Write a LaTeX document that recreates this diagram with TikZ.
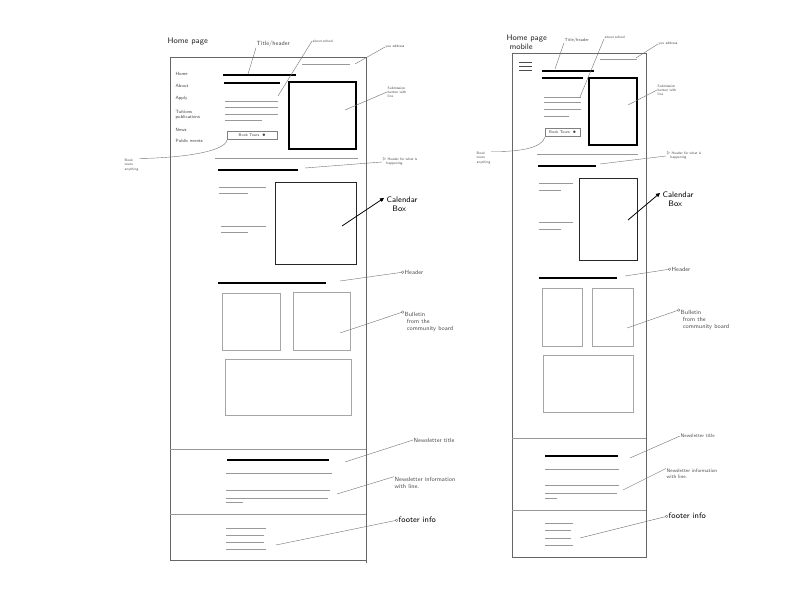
\documentclass[tikz,border=0pt]{standalone}
\usetikzlibrary{arrows.meta}
\begin{document}
\begin{tikzpicture}[x=1pt,y=-1pt,
  frame/.style={draw=black!60, line width=0.8pt},
  sep/.style={draw=black!40, line width=0.6pt},
  heavy/.style={draw=black, line width=2pt},
  heavyb/.style={draw=black, line width=1.6pt},
  thinl/.style={draw=black!40, line width=0.7pt},
  lbox/.style={draw=black!35, line width=0.7pt},
  bbox/.style={draw=black, line width=1.6pt},
  cbox/.style={draw=black!85, line width=1pt},
  lead/.style={draw=black!55, line width=0.4pt},
  leadc/.style={draw=black!55, line width=0.4pt, {Circle[open,length=3pt,line width=0.4pt]}-},
  leadk/.style={draw=black, line width=0.8pt, {Triangle[length=4pt,width=4pt]}-},
  tiny/.style={font=\sffamily\fontsize{3.6}{4.2}\selectfont, text=black!70, align=left, inner sep=0.5pt, anchor=west},
  nav/.style={font=\sffamily\fontsize{4.6}{5.2}\selectfont, text=black!75, align=left, inner sep=0.5pt, anchor=west},
  mid/.style={font=\sffamily\fontsize{6}{7}\selectfont, text=black!70, align=left, inner sep=0.5pt, anchor=west},
  big/.style={font=\sffamily\fontsize{8}{9}\selectfont, text=black, align=left, inner sep=0.5pt, anchor=west},
  ttl/.style={font=\sffamily\fontsize{8}{9}\selectfont, text=black!85, align=left, inner sep=0.5pt, anchor=west},
  btn/.style={draw=black!50, line width=0.5pt, minimum width=50pt, minimum height=8.5pt, inner sep=0pt, font=\sffamily\fontsize{4}{4.5}\selectfont, text=black!75, anchor=north west}
]
\useasboundingbox (0,0) rectangle (792,612);
\fill[white] (0,0) rectangle (792,612);

%================ DESKTOP =================
\node[ttl] (dtitle) at (167,42) {Home page};
\draw[frame] (170,57) -- (366,57) -- (366,563);
\draw[frame] (170,57) -- (170,560) -- (366,560);
\draw[sep] (170,449) -- (366,449);
\draw[sep] (170,514) -- (366,514);

% nav
\node[nav] (n1) at (175,74) {Home};
\node[nav] (n2) at (175,86) {About};
\node[nav] (n3) at (175,98) {Apply};
\node[nav,align=left] (n4) at (175,115) {Tuitions\\publications};
\node[nav] (n5) at (175,130) {News};
\node[nav] (n6) at (175,141) {Public events};

% top section
\draw[thinl] (302,64) -- (350,64);
\draw[heavy] (223,75) -- (296,75);
\draw[heavy] (224,83) -- (280,83);
\draw[thinl] (225,101) -- (278,101);
\draw[thinl] (225,107) -- (278,107);
\draw[thinl] (225,114) -- (278,114);
\draw[thinl] (225,120) -- (262,120);
\draw[bbox] (289,82) rectangle (356,149);
\node[btn] (dbtn) at (227,131) {Book Tours \ $\bullet$};

\draw[thinl] (215,158) -- (358,158);
\draw[heavy] (218,170) -- (298,170);
\draw[cbox] (275,183) rectangle (356,265);
\draw[thinl] (219,187) -- (266,187);
\draw[thinl] (219,193) -- (248,193);
\draw[thinl] (221,226) -- (266,226);
\draw[thinl] (221,232) -- (248,232);

\draw[heavy] (218,283) -- (326,283);
\draw[lbox] (222,293) rectangle (280,350);
\draw[lbox] (293,292) rectangle (350,350);
\draw[lbox] (225,359) rectangle (351,415);

\draw[heavyb] (227,460) -- (329,460);
\draw[thinl] (226,473) -- (332,473);
\draw[thinl] (226,490) -- (330,490);
\draw[thinl] (226,498) -- (328,498);
\draw[thinl] (226,502) -- (243,502);
\draw[thinl] (226,528) -- (266,528);
\draw[thinl] (226,535) -- (264,535);
\draw[thinl] (226,542) -- (264,542);
\draw[thinl] (226,549) -- (266,549);

% annotations desktop
\node[mid] (dh) at (256,44) {Title/header};
\coordinate (dhs) at (248,74);
\draw[lead] (dhs) -- (dh.south west);
\node[tiny] (das) at (312,41) {about school};
\coordinate (dass) at (278,96);
\draw[lead] (dass) -- (das.west);
\node[tiny] (dad) at (385,47) {you address};
\coordinate (dads) at (355,64);
\draw[lead] (dads) -- (dad.west);
\node[tiny] (dsb) at (387,92) {Submission\\button with\\line};
\coordinate (dsbs) at (345,110);
\draw[lead] (dsbs) -- (dsb.west);
\node[tiny] (dbt) at (124,165) {Book\\tours\\anything};
\draw[lead] (dbtn.south west) .. controls (225,152) and (180,158) .. (dbt.north east);
\node[tiny] (dhh) at (382,162) {$\triangleright$ Header for what is\\\quad happening};
\coordinate (dhhs) at (305,168);
\draw[lead] (dhhs) -- (dhh.west);
\node[big] (dcal) at (386,204) {Calendar\\\ \ Box};
\coordinate (dcals) at (342,226);
\coordinate (dcalt) at (384,198);
\draw[leadk] (dcalt) -- (dcals);
\node[mid] (dhd) at (404,272) {Header};
\coordinate (dhds) at (340,281);
\draw[leadc] (dhd.west) -- (dhds);
\node[mid] (dbu) at (404,322) {Bulletin\\\ from the\\\ community board};
\coordinate (dbus) at (340,333);
\draw[leadc] (dbu.north west) -- (dbus);
\node[mid] (dnt) at (413,440) {Newsletter title};
\coordinate (dnts) at (345,462);
\draw[lead] (dnt.west) -- (dnts);
\node[mid] (dni) at (394,483) {Newsletter information\\with line.};
\coordinate (dnis) at (337,494);
\draw[lead] (dni.north west) -- (dnis);
\node[big] (dfi) at (398,520) {footer info};
\coordinate (dfis) at (276,545);
\draw[leadc] (dfi.west) -- (dfis);

%================ MOBILE =================
\node[ttl] (mtitle) at (506,42) {Home page\\\ mobile};
\draw[frame] (512,53) rectangle (646,557);
\draw[sep] (512,438) -- (646,438);
\draw[sep] (512,510) -- (646,510);

\draw[draw=black!70,line width=0.8pt] (519,62) -- (532,62) (519,66) -- (532,66) (519,70) -- (532,70);
\draw[thinl] (600,59) -- (637,59);
\draw[heavy] (542,71) -- (594,71);
\draw[heavy] (542,78) -- (583,78);
\draw[thinl] (544,97) -- (581,97);
\draw[thinl] (544,102) -- (581,102);
\draw[thinl] (544,109) -- (581,109);
\draw[thinl] (544,116) -- (569,116);
\draw[bbox] (589,78) rectangle (637,145);
\node[btn,minimum width=35pt] (mbtn) at (545,128) {Book Tours \ $\bullet$};

\draw[thinl] (537,154) -- (638,154);
\draw[heavy] (538,166) -- (596,166);
\draw[cbox] (579,179) rectangle (637,261);
\draw[thinl] (539,183) -- (573,183);
\draw[thinl] (539,190) -- (561,190);
\draw[thinl] (539,222) -- (573,222);
\draw[thinl] (539,229) -- (561,229);

\draw[heavy] (539,278) -- (617,278);
\draw[lbox] (542,288) rectangle (582,346);
\draw[lbox] (592,288) rectangle (633,346);
\draw[lbox] (543,355) rectangle (633,412);

\draw[heavyb] (545,456) -- (618,456);
\draw[thinl] (545,469) -- (619,469);
\draw[thinl] (545,485) -- (619,485);
\draw[thinl] (545,493) -- (617,493);
\draw[thinl] (545,498) -- (557,498);
\draw[thinl] (545,523) -- (573,523);
\draw[thinl] (545,530) -- (571,530);
\draw[thinl] (545,538) -- (571,538);
\draw[thinl] (545,545) -- (573,545);

% annotations mobile
\node[tiny,font=\sffamily\fontsize{4.4}{5}\selectfont] (mh) at (564,40) {Title/header};
\coordinate (mhs) at (555,69);
\draw[lead] (mhs) -- (mh.south west);
\node[tiny] (mas) at (604,37) {about school};
\coordinate (mass) at (580,97);
\draw[lead] (mass) -- (mas.south west);
\node[tiny] (mad) at (658,44) {you address};
\coordinate (mads) at (636,58);
\draw[lead] (mads) -- (mad.west);
\node[tiny] (msb) at (657,90) {Submission\\button with\\line};
\coordinate (msbs) at (628,105);
\draw[lead] (msbs) -- (msb.west);
\node[tiny] (mbt) at (476,158) {Book\\tours\\anything};
\draw[lead] (mbtn.south west) .. controls (542,148) and (520,152) .. (mbt.north east);
\node[tiny] (mhh) at (666,156) {$\triangleright$ Header for what is\\\quad happening};
\coordinate (mhhs) at (600,164);
\draw[lead] (mhhs) -- (mhh.west);
\node[big] (mcal) at (662,199) {Calendar\\\ \ Box};
\coordinate (mcals) at (628,220);
\coordinate (mcalt) at (660,193);
\draw[leadk] (mcalt) -- (mcals);
\node[mid] (mhd) at (671,269) {Header};
\coordinate (mhds) at (625,276);
\draw[leadc] (mhd.west) -- (mhds);
\node[mid] (mbu) at (680,320) {Bulletin\\\ from the\\\ community board};
\coordinate (mbus) at (627,328);
\draw[leadc] (mbu.north west) -- (mbus);
\node[tiny,font=\sffamily\fontsize{5}{6}\selectfont] (mnt) at (680,436) {Newsletter title};
\coordinate (mnts) at (630,458);
\draw[lead] (mnt.west) -- (mnts);
\node[tiny,font=\sffamily\fontsize{5}{6}\selectfont] (mni) at (666,474) {Newsletter information\\with line.};
\coordinate (mnis) at (623,490);
\draw[lead] (mni.north west) -- (mnis);
\node[big] (mfi) at (668,516) {footer info};
\coordinate (mfis) at (580,538);
\draw[leadc] (mfi.west) -- (mfis);
\end{tikzpicture}
\end{document}
